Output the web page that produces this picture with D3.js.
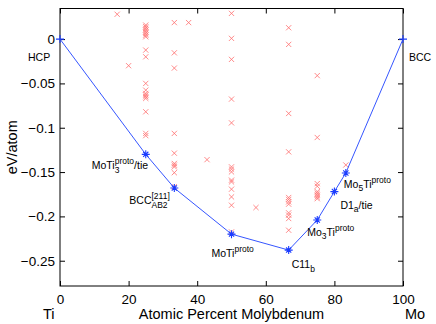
<!DOCTYPE html>
<html>
<head>
<meta charset="utf-8">
<script src="https://cdn.jsdelivr.net/npm/d3@7"></script>
<style>
  body { margin: 0; background: #fff; }
  text { font-family: "Liberation Sans", Arial, sans-serif; fill: #000; }
</style>
</head>
<body>
<svg id="hull"></svg>
<script>
let w = 436;
let h = 324;

// convex hull (ground states)
const hullX = [0, 25, 33.33, 50, 66.67, 75, 80, 83.33, 100];
const hullE = [0, -0.13, -0.168, -0.22, -0.238, -0.204, -0.172, -0.151, 0];

// all other computed structures
const structX = [16.67, 20,
  25, 25, 25, 25, 25, 25, 25, 25, 25, 25, 25, 25, 25, 25, 25, 25, 25, 25, 25,
  33.33, 33.33, 33.33, 33.33, 33.33, 33.33, 33.33, 33.33, 33.33, 33.33,
  37.5, 42.86,
  50, 50, 50, 50, 50, 50, 50, 50, 50, 50, 50, 50, 50, 50,
  57.14,
  66.67, 66.67, 66.67, 66.67, 66.67, 66.67, 66.67, 66.67, 66.67, 66.67, 66.67, 66.67,
  75, 75, 75, 75, 75, 75, 75, 75, 75,
  83.33];
const structE = [0.028, -0.030,
  0.0158, 0.0139, 0.0121, 0.0102, 0.0082, 0.0064, 0.0045, 0.0026, -0.0124, -0.020,
  -0.050, -0.0576, -0.0613, -0.0632, -0.065, -0.0669, -0.082, -0.1064, -0.1089,
  0.0186, -0.0155, -0.0327, -0.1064, -0.1287, -0.1403, -0.1422, -0.1441, -0.1507, -0.1665,
  0.0186, -0.136,
  0.029, 0.0008, -0.0229, -0.0677, -0.0945, -0.1441, -0.1467, -0.1498, -0.1591, -0.1611,
  -0.1693, -0.178, -0.1874, -0.2175,
  -0.190,
  0.0128, -0.006, -0.0839, -0.1272, -0.1787, -0.1809, -0.1836, -0.1862, -0.196, -0.1986,
  -0.2024, -0.2156,
  -0.0412, -0.111, -0.163, -0.166, -0.172, -0.174, -0.176, -0.178, -0.18,
  -0.142];

const xTicks = [0, 20, 40, 60, 80, 100];
const yTicks = [0, -0.05, -0.1, -0.15, -0.2, -0.25];
const yTickLabels = ["0", "\u22120.05", "\u22120.1", "\u22120.15", "\u22120.2", "\u22120.25"];

// labels: hull index, text pieces [text, kind, stacked]
const hullLabels = [
  { i: 0, dx: -32, dy: 22, parts: [["HCP", ""]] },
  { i: 8, dx: 6, dy: 22, parts: [["BCC", ""]] },
  { i: 1, dx: -54, dy: 15, parts: [["MoTi", ""], ["3", "sub"], ["proto", "sup", true], ["/tie", ""]] },
  { i: 2, dx: -45, dy: 16, parts: [["BCC", ""], ["[211]", "sup"], ["AB2", "sub", true]] },
  { i: 3, dx: -20, dy: 23, parts: [["MoTi", ""], ["proto", "sup"]] },
  { i: 4, dx: 3, dy: 18, parts: [["C11", ""], ["b", "sub"]] },
  { i: 5, dx: -10, dy: 16, parts: [["Mo", ""], ["3", "sub"], ["Ti", ""], ["proto", "sup"]] },
  { i: 6, dx: 6, dy: 17, parts: [["D1", ""], ["a", "sub"], ["/tie", ""]] },
  { i: 7, dx: -2, dy: 15, parts: [["Mo", ""], ["5", "sub"], ["Ti", ""], ["proto", "sup"]] }
];

let svg = d3.select("#hull").attr("width", w).attr("height", h);

let mLeft = 60, mRight = 403, mTop = 8.5, mBottom = 286;

let xScale = d3.scaleLinear().domain([0, 100]).range([mLeft, mRight]);
let yScale = d3.scaleLinear().domain([-0.2785, 0.0345]).range([mBottom, mTop]);

// axes with inward ticks on all four sides
svg.append("g")
  .attr("transform", "translate(0," + mBottom + ")")
  .call(d3.axisBottom(xScale).tickValues(xTicks).tickSize(-5).tickPadding(8).tickFormat(d3.format("d")));
svg.append("g")
  .attr("transform", "translate(" + mLeft + ",0)")
  .call(d3.axisLeft(yScale).tickValues(yTicks).tickSize(-5).tickPadding(5)
    .tickFormat(function (d, i) { return yTickLabels[i]; }));
svg.append("g")
  .attr("transform", "translate(0," + mTop + ")")
  .call(d3.axisTop(xScale).tickValues(xTicks).tickSize(-5).tickFormat(""));
svg.append("g")
  .attr("transform", "translate(" + mRight + ",0)")
  .call(d3.axisRight(yScale).tickValues(yTicks).tickSize(-5).tickFormat(""));

svg.selectAll(".domain").remove();
svg.selectAll(".tick line").attr("stroke", "#000");
svg.selectAll(".tick text").style("font-size", "13.5px").attr("fill", "#000");

svg.append("rect")
  .attr("x", mLeft).attr("y", mTop)
  .attr("width", mRight - mLeft).attr("height", mBottom - mTop)
  .attr("fill", "none").attr("stroke", "#000").attr("stroke-width", 1);

// red x markers
let s = 2.6;
let structs = svg.append("g").attr("stroke", "#ff4a4a").attr("stroke-width", 0.8).attr("opacity", 0.8);
structX.forEach(function (x, k) {
  let cx = xScale(x), cy = yScale(structE[k]);
  structs.append("path")
    .attr("d", "M" + (cx - s) + "," + (cy - s) + "L" + (cx + s) + "," + (cy + s) +
      "M" + (cx - s) + "," + (cy + s) + "L" + (cx + s) + "," + (cy - s))
    .attr("fill", "none");
});

// hull line
let line = d3.line()
  .x(function (d, i) { return xScale(hullX[i]); })
  .y(function (d, i) { return yScale(hullE[i]); });

svg.append("path")
  .datum(hullX)
  .attr("d", line)
  .attr("fill", "none")
  .attr("stroke", "#3656ff")
  .attr("stroke-width", 1);

let hullG = svg.append("g").attr("stroke", "#1a3cff").attr("stroke-width", 1.1);
hullX.forEach(function (x, k) {
  let cx = xScale(x), cy = yScale(hullE[k]), r = 4, d = 2.6;
  let p = "M" + (cx - r) + "," + cy + "L" + (cx + r) + "," + cy +
    "M" + cx + "," + (cy - r) + "L" + cx + "," + (cy + r);
  if (k > 0 && k < hullX.length - 1) {
    p += "M" + (cx - d) + "," + (cy - d) + "L" + (cx + d) + "," + (cy + d) +
      "M" + (cx - d) + "," + (cy + d) + "L" + (cx + d) + "," + (cy - d);
  }
  hullG.append("path").attr("d", p).attr("fill", "none");
});

// structure labels with sub/superscripts
hullLabels.forEach(function (lab) {
  let t = svg.append("text")
    .attr("x", xScale(hullX[lab.i]) + lab.dx)
    .attr("y", yScale(hullE[lab.i]) + lab.dy)
    .style("font-size", "10.5px");
  let shift = 0, prev = null;
  lab.parts.forEach(function (p) {
    let target = p[1] == "sub" ? 3.5 : p[1] == "sup" ? -5 : 0;
    let ts = t.append("tspan")
      .attr("dy", target - shift)
      .style("font-size", p[1] == "" ? "10.5px" : "8.5px")
      .text(p[0]);
    if (p[2] && prev) {
      ts.attr("dx", -prev.node().getComputedTextLength());
    }
    shift = target;
    prev = ts;
  });
});

// axis titles
svg.append("text")
  .attr("x", (mLeft + mRight) / 2)
  .attr("y", 319)
  .attr("text-anchor", "middle")
  .style("font-size", "14.5px")
  .text("Atomic Percent Molybdenum");
svg.append("text").attr("x", 43).attr("y", 319).style("font-size", "14.5px").text("Ti");
svg.append("text").attr("x", 405).attr("y", 319).style("font-size", "14.5px").text("Mo");
svg.append("text")
  .attr("transform", "translate(17," + (mTop + mBottom) / 2 + ") rotate(-90)")
  .attr("text-anchor", "middle")
  .style("font-size", "14.5px")
  .text("eV/atom");
</script>
</body>
</html>
